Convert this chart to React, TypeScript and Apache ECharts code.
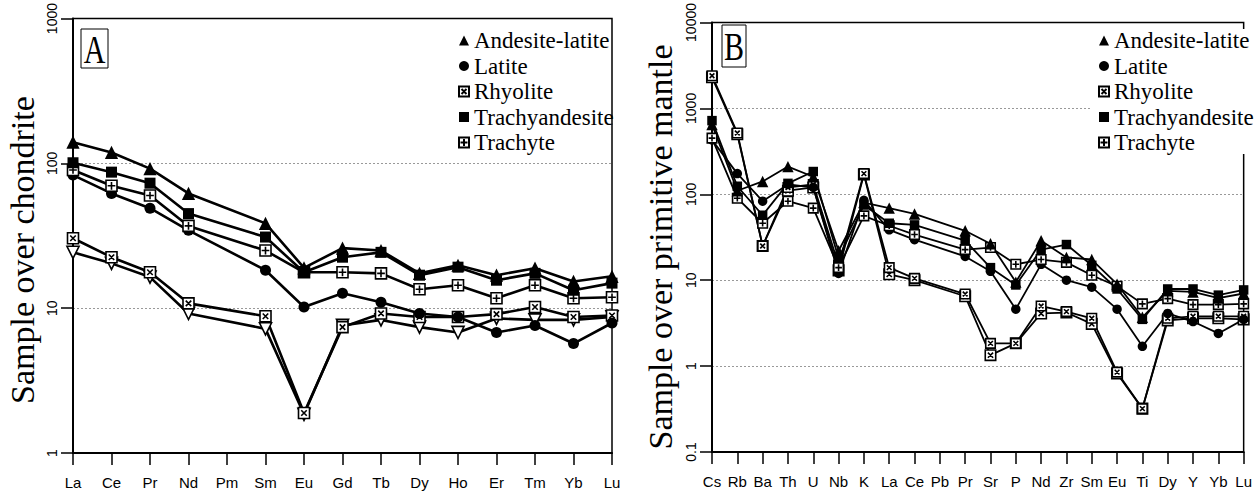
import React, { useEffect, useRef } from "react";
import * as echarts from "echarts";

// ---------- categories ----------
const REE_CATS = ["La", "Ce", "Pr", "Nd", "Pm", "Sm", "Eu", "Gd", "Tb", "Dy", "Ho", "Er", "Tm", "Yb", "Lu"];
const SPIDER_CATS = ["Cs", "Rb", "Ba", "Th", "U", "Nb", "K", "La", "Ce", "Pb", "Pr", "Sr", "P", "Nd", "Zr", "Sm", "Eu", "Ti", "Dy", "Y", "Yb", "Lu"];

// ---------- panel A : chondrite normalised REE ----------
const A_ANDESITE = [140, 119, 92, 62, null, 38.5, 19, 26, 25, 17.4, 19.8, 16.9, 18.9, 15.3, 16.6];
const A_LATITE = [83, 62, 49, 34.5, null, 18.3, 10.2, 12.7, 11, 9.2, 8.7, 6.8, 7.6, 5.7, 7.9];
const A_RHYOLITE = [30.4, 22.5, 17.7, 10.8, null, 8.8, 1.89, 7.4, 9.2, 8.7, 8.7, 9.1, 10.2, 8.7, 8.9];
const A_RHYOLITE2 = [24.3, 20.4, 16.4, 9.2, null, 7.2, 1.85, 7.6, 8.3, 7.4, 6.8, 8.5, 8.3, 8.3, 8.7];
const A_TRACHYANDESITE = [101, 87, 73, 45, null, 31, 17.7, 22.5, 24.3, 16.9, 19.2, 15.6, 17.4, 13.3, 14.9];
const A_TRACHYTE = [90, 70, 60, 37, null, 25, 17.7, 17.7, 17.4, 13.5, 14.4, 11.7, 14.4, 11.7, 11.9];

// ---------- panel B : primitive mantle normalised ----------
const B_ANDESITE = [650, 110, 141, 210, 160, 22, 80, 69, 59, null, 37.6, 26.6, 9.5, 28.8, 18.4, 17.4, 9.0, 3.7, 7.5, 7.3, 6.2, 7.0];
const B_LATITE = [430, 174, 83, 130, 120, 12, 85, 38.6, 29.6, null, 18.9, 12.7, 4.6, 15.3, 10, 8.3, 4.6, 1.7, 4.1, 3.3, 2.4, 3.5];
const B_RHYOLITE = [2400, 517, 25, 120, 130, 15, 174, 14, 10.5, null, 6.9, 1.84, 1.84, 5.0, 4.3, 3.6, 0.85, 0.32, 3.6, 3.8, 3.8, 3.8];
const B_RHYOLITE2 = [2300, 500, 25, 110, 120, 13, 170, 11.7, 10, null, 6.5, 1.34, 1.84, 4.1, 4.2, 3.1, 0.82, 0.32, 3.4, 3.6, 3.6, 3.5];
const B_TRACHYANDESITE = [720, 124, 57, 134, 184, 18, 75, 46, 44, null, 28.8, 14, 8.8, 22.7, 26, 14.9, 7.9, 3.5, 7.9, 7.9, 6.7, 7.7];
const B_TRACHYTE = [450, 90, 46, 83, 69, 14, 56, 43, 34, null, 22.7, 24, 15.3, 17.4, 16.1, 11.4, 8.5, 5.3, 6.1, 5.2, 5.2, 5.3];

const LEGEND_NAMES = ["Andesite-latite", "Latite", "Rhyolite", "Trachyandesite", "Trachyte"];

const SYM_BOXX = "path://M0,0L10,0L10,10L0,10Z M2.5,2.5L7.5,7.5 M7.5,2.5L2.5,7.5";
const SYM_BOXPLUS = "path://M0,0L10,0L10,10L0,10Z M5,1.5L5,8.5 M1.5,5L8.5,5";
const SYM_DOWNTRI = "path://M0,0L10,0L5,9Z";

const SERIF = "Liberation Serif";
const SANS = "Liberation Sans";

type Sty = { symbol: string; filled: boolean; size: number };
const STY: Record<string, Sty> = {
  "Andesite-latite": { symbol: "triangle", filled: true, size: 12 },
  Latite: { symbol: "circle", filled: true, size: 10 },
  Rhyolite: { symbol: SYM_BOXX, filled: false, size: 10 },
  "Rhyolite (2)": { symbol: SYM_DOWNTRI, filled: false, size: 11 },
  Trachyandesite: { symbol: "rect", filled: true, size: 10 },
  Trachyte: { symbol: SYM_BOXPLUS, filled: false, size: 10 },
};

function mk(name: string, data: (number | null)[], idx: number, lw: number, scale: number, symOverride?: string) {
  const s = STY[name];
  return {
    type: "line",
    name,
    xAxisIndex: idx,
    yAxisIndex: idx,
    data,
    connectNulls: true,
    showAllSymbol: true,
    symbol: symOverride || s.symbol,
    symbolSize: s.size * scale,
    lineStyle: { color: "#000", width: lw },
    itemStyle: {
      color: s.filled ? "#000" : "#fff",
      borderColor: "#000",
      borderWidth: s.filled ? 0 : 1.6,
    },
    emphasis: { disabled: true },
  };
}

function yAxis(idx: number, min: number, max: number) {
  return {
    type: "log",
    logBase: 10,
    gridIndex: idx,
    min,
    max,
    axisLine: { show: true, lineStyle: { color: "#000", width: 2 } },
    axisTick: { show: true, length: 12, lineStyle: { color: "#000", width: 1.5 } },
    axisLabel: {
      rotate: 90,
      margin: 14,
      color: "#000",
      fontSize: 14,
      fontFamily: SANS,
      formatter: (v: number) => String(v),
    },
    splitLine: { show: true, showMinLine: false, showMaxLine: false, lineStyle: { color: "#999", width: 1, type: [2, 2] } },
    minorTick: { show: false },
  };
}

function xAxis(idx: number, cats: string[]) {
  return {
    type: "category",
    gridIndex: idx,
    data: cats,
    boundaryGap: false,
    axisLine: { show: true, lineStyle: { color: "#000", width: 2 } },
    axisTick: { show: true, length: 12, interval: 0, lineStyle: { color: "#000", width: 1.5 } },
    axisLabel: { interval: 0, margin: 22, color: "#000", fontSize: 15, fontFamily: SANS },
    splitLine: { show: false },
  };
}

function legend(left: number, bg: string) {
  const icons: Record<string, string> = {
    "Andesite-latite": "triangle",
    Latite: "circle",
    Rhyolite: SYM_BOXX,
    Trachyandesite: "rect",
    Trachyte: SYM_BOXPLUS,
  };
  return {
    orient: "vertical",
    left,
    top: 29,
    padding: [0, 4, 0, 6],
    itemWidth: 10,
    itemHeight: 10,
    itemGap: 2.5,
    selectedMode: false,
    backgroundColor: bg,
    textStyle: { fontFamily: SERIF, fontSize: 23, color: "#000", lineHeight: 22 },
    data: LEGEND_NAMES.map((n) => ({ name: n, icon: icons[n] })),
  };
}

export default function App() {
  const ref = useRef<HTMLDivElement>(null);
  useEffect(() => {
    if (!ref.current) return;
    const chart = echarts.init(ref.current, undefined, { renderer: "svg" });
    const option = {
      animation: false,
      backgroundColor: "#fff",
      textStyle: { fontFamily: SERIF },
      grid: [
        { left: 73, top: 18, width: 539, height: 435, show: true, borderColor: "#000", borderWidth: 1.5, backgroundColor: "transparent" },
        { left: 712, top: 17, width: 537, height: 435, show: true, borderColor: "#000", borderWidth: 1.5, backgroundColor: "transparent" },
      ],
      xAxis: [xAxis(0, REE_CATS), xAxis(1, SPIDER_CATS)],
      yAxis: [yAxis(0, 1, 1000), yAxis(1, 0.1, 10000)],
      legend: [legend(452, "transparent"), legend(1092, "#fff")],
      series: [
        mk("Rhyolite (2)", A_RHYOLITE2, 0, 2.6, 1.1),
        mk("Rhyolite", A_RHYOLITE, 0, 2.6, 1.1),
        mk("Latite", A_LATITE, 0, 2.6, 1.1),
        mk("Trachyte", A_TRACHYTE, 0, 2.6, 1.1),
        mk("Trachyandesite", A_TRACHYANDESITE, 0, 2.6, 1.1),
        mk("Andesite-latite", A_ANDESITE, 0, 2.6, 1.1),
        mk("Rhyolite (2)", B_RHYOLITE2, 1, 1.8, 0.95, SYM_BOXX),
        mk("Rhyolite", B_RHYOLITE, 1, 1.8, 0.95),
        mk("Latite", B_LATITE, 1, 1.8, 0.95),
        mk("Trachyte", B_TRACHYTE, 1, 1.8, 0.95),
        mk("Trachyandesite", B_TRACHYANDESITE, 1, 1.8, 0.95),
        mk("Andesite-latite", B_ANDESITE, 1, 1.8, 0.95),
      ],
      graphic: [
        { type: "rect", shape: { x: 81, y: 29, width: 27, height: 39 }, style: { fill: "#fff", stroke: "#000", lineWidth: 1 }, z: 10 },
        { type: "text", x: 94.5, y: 49, scaleX: 0.75, z: 11, style: { text: "A", fontFamily: SERIF, fontSize: 40, fill: "#000", align: "center", verticalAlign: "middle" } },
        { type: "rect", shape: { x: 722, y: 25, width: 24, height: 42 }, style: { fill: "#fff", stroke: "#000", lineWidth: 1 }, z: 10 },
        { type: "text", x: 734, y: 46.5, scaleX: 0.75, z: 11, style: { text: "B", fontFamily: SERIF, fontSize: 40, fill: "#000", align: "center", verticalAlign: "middle" } },
        { type: "text", x: 22, y: 250, rotation: Math.PI / 2, style: { text: "Sample over chondrite", fontFamily: SERIF, fontSize: 34, fill: "#000", align: "center", verticalAlign: "middle" } },
        { type: "text", x: 660, y: 247, rotation: Math.PI / 2, style: { text: "Sample over primitive mantle", fontFamily: SERIF, fontSize: 34, fill: "#000", align: "center", verticalAlign: "middle" } },
      ],
    };
    chart.setOption(option as any);
    return () => chart.dispose();
  }, []);
  return <div ref={ref} style={{ position: "fixed", left: 0, top: 0, width: 1255, height: 491, background: "#fff" }} />;
}
